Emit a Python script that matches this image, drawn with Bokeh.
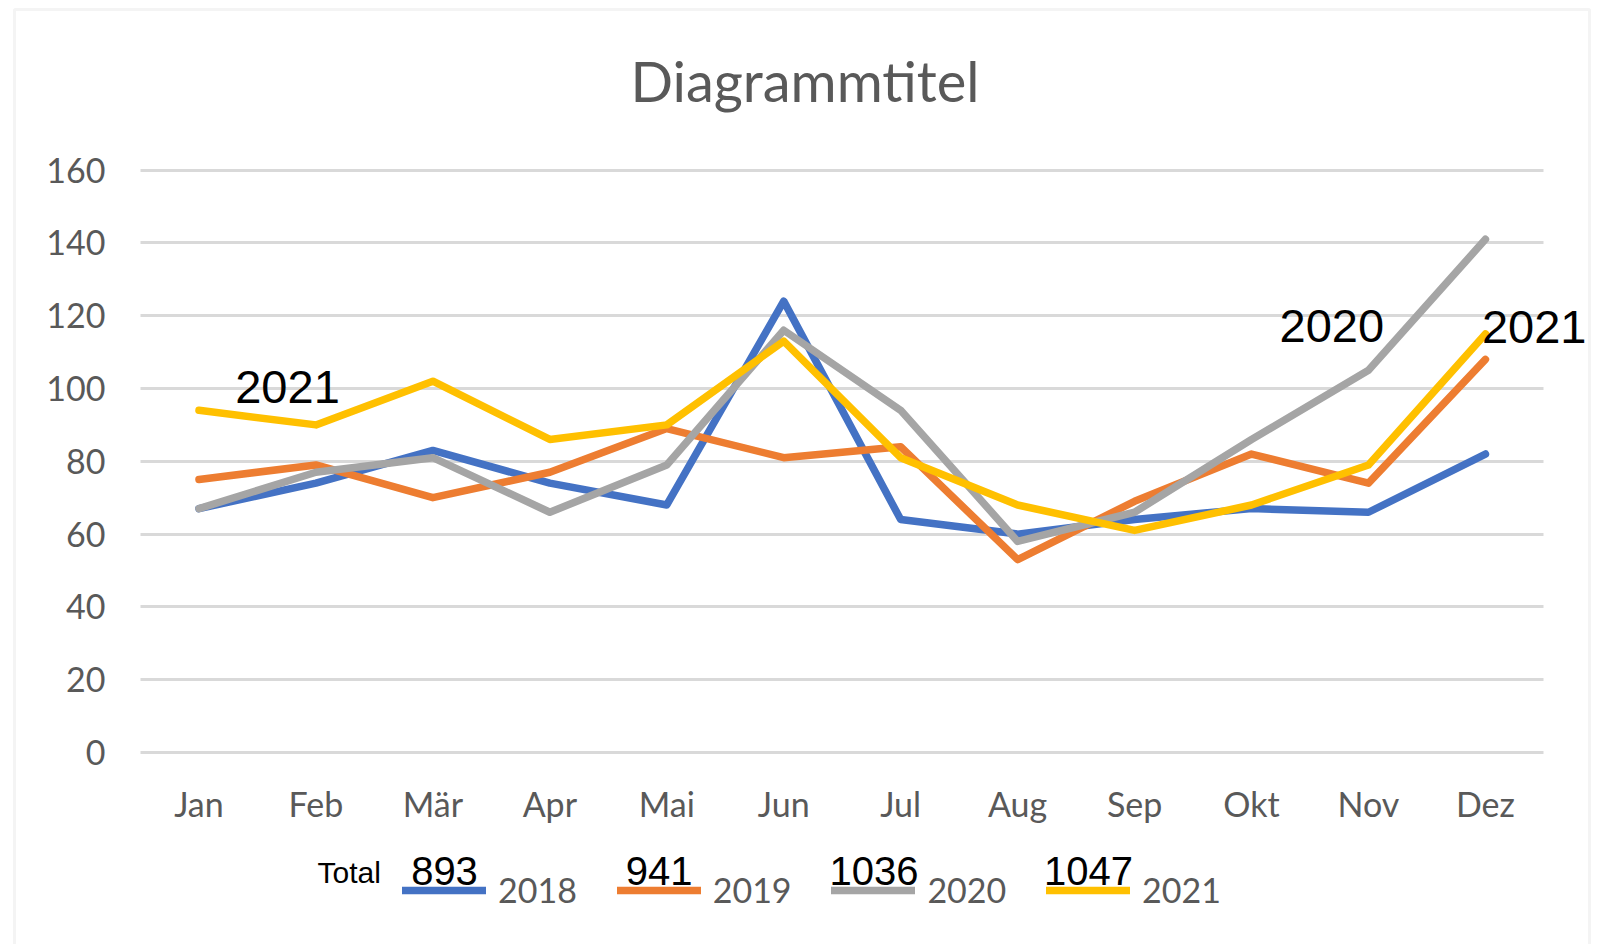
from bokeh.plotting import figure
from bokeh.models import (Range1d, FixedTicker, Label, Legend, LegendItem, BoxAnnotation)
from bokeh.embed import file_html
from bokeh.resources import INLINE

# ---------------- data ----------------
months = ["Jan", "Feb", "Mär", "Apr", "Mai", "Jun", "Jul", "Aug", "Sep", "Okt", "Nov", "Dez"]
years = ["2018", "2019", "2020", "2021"]
v2018 = [67, 74, 83, 74, 68, 124, 64, 60, 64, 67, 66, 82]
v2019 = [75, 79, 70, 77, 89, 81, 84, 53, 69, 82, 74, 108]
v2020 = [67, 77, 81, 66, 79, 116, 94, 58, 66, 86, 105, 141]
v2021 = [94, 90, 102, 86, 90, 113, 81, 68, 61, 68, 79, 115]
y_ticks = [0, 20, 40, 60, 80, 100, 120, 140, 160]
colors = ["#4472C4", "#ED7D31", "#A5A5A5", "#FFC000"]
title_text = "Diagrammtitel"
total_text = "Total"
# in-chart annotations: (text, x in month units, y value)
annotations = [("2021", 0.81, 100.5), ("2020", 9.74, 117.2), ("2021", 11.47, 116.8)]

series = [v2018, v2019, v2020, v2021]
totals = [sum(s) for s in series]
xs = [i + 0.5 for i in range(len(months))]   # category centres

# ---------------- layout (pixels) ----------------
W, H = 1598, 944
PLOT_LEFT = 140.0      # x pixel of the category axis start
PX_CAT = 116.95        # pixels per month
ZERO_Y = 752.0         # y pixel of value 0
PX_VAL = 3.64          # pixels per value unit
GRAY_TXT = "#595959"

x0 = -PLOT_LEFT / PX_CAT
x1 = (W - PLOT_LEFT) / PX_CAT
y0 = -(H - ZERO_Y) / PX_VAL
y1 = ZERO_Y / PX_VAL

p = figure(width=W, height=H, x_range=Range1d(x0, x1), y_range=Range1d(y0, y1),
           output_backend="svg", toolbar_location=None, title=None,
           min_border=0, min_border_left=0, min_border_right=0,
           min_border_top=0, min_border_bottom=0)
p.outline_line_color = None
p.background_fill_color = "white"
p.border_fill_color = "white"

# axes (fixed at the plot-area edges)
p.xaxis.fixed_location = 0 - 1.5
p.yaxis.fixed_location = 0
p.xaxis.ticker = FixedTicker(ticks=xs)
p.xaxis.major_label_overrides = {x: m for x, m in zip(xs, months)}
p.yaxis.ticker = FixedTicker(ticks=y_ticks)
for ax in (p.xaxis, p.yaxis):
    ax.axis_line_color = None
    ax.major_tick_line_color = None
    ax.minor_tick_line_color = None
    ax.major_tick_out = 0
    ax.major_tick_in = 0
    ax.major_label_text_font = "Lato"
    ax.major_label_text_font_size = "34px"
    ax.major_label_text_color = GRAY_TXT
p.yaxis.major_label_standoff = 35
p.xaxis.major_label_standoff = 25

p.xgrid.grid_line_color = None
p.ygrid.grid_line_color = "#d9d9d9"
p.ygrid.grid_line_width = 3
try:
    p.ygrid.cross_bounds = (0, len(months))
except Exception:
    p.ygrid.visible = False
    p.segment(x0=[0] * len(y_ticks), x1=[len(months)] * len(y_ticks),
              y0=y_ticks, y1=y_ticks, line_color="#d9d9d9", line_width=3)

# lines
renderers = []
for vals, col in zip(series, colors):
    r = p.line(xs, vals, line_color=col, line_width=7.5,
               line_join="round", line_cap="round")
    renderers.append(r)

# outer chart border
p.add_layout(BoxAnnotation(left=14, right=1589, top=H - 9, bottom=-60,
                           left_units="screen", right_units="screen",
                           top_units="screen", bottom_units="screen",
                           fill_alpha=0, line_color="#d9d9d9", line_width=3))

# title
p.add_layout(Label(x=804.5, y=H - 80, x_units="screen", y_units="screen",
                   text=title_text, text_align="center", text_baseline="alphabetic",
                   text_font="Lato", text_font_size="56px", text_color=GRAY_TXT))

# annotations in the plot
for txt, xx, yy in annotations:
    p.add_layout(Label(x=xx, y=yy, text=txt, text_align="left",
                       text_baseline="alphabetic", text_font="Liberation Sans",
                       text_font_size="47px", text_color="black", level="overlay"))

# legend (one per series) with totals just above the swatches
legend_x0 = 398
legend_step = 214.7
glyph_w = 84
total_labels = []
for i, (yr, r) in enumerate(zip(years, renderers)):
    lx = legend_x0 + i * legend_step
    leg = Legend(items=[LegendItem(label=yr, renderers=[r])],
                 location=(lx + 4, H - 890 - 20), orientation="horizontal",
                 glyph_width=glyph_w, glyph_height=40, label_height=40,
                 label_standoff=12, padding=0, margin=0,
                 border_line_color=None, background_fill_alpha=0,
                 label_text_font="Lato", label_text_font_size="34px",
                 label_text_color=GRAY_TXT, level="underlay")
    p.add_layout(leg)
    total_labels.append(Label(x=lx + 4 + glyph_w / 2, y=H - 870,
                              x_units="screen", y_units="screen",
                              text=str(totals[i]), text_align="center",
                              text_baseline="alphabetic",
                              text_font="Liberation Sans", text_font_size="40px",
                              text_color="black", level="overlay"))

for lab in total_labels:
    p.add_layout(lab)

p.add_layout(Label(x=317, y=H - 872, x_units="screen", y_units="screen",
                   text=total_text, text_align="left", text_baseline="alphabetic",
                   text_font="Liberation Sans", text_font_size="30px",
                   text_color="black", level="overlay"))

open("out.html", "w").write(file_html(p, INLINE))
